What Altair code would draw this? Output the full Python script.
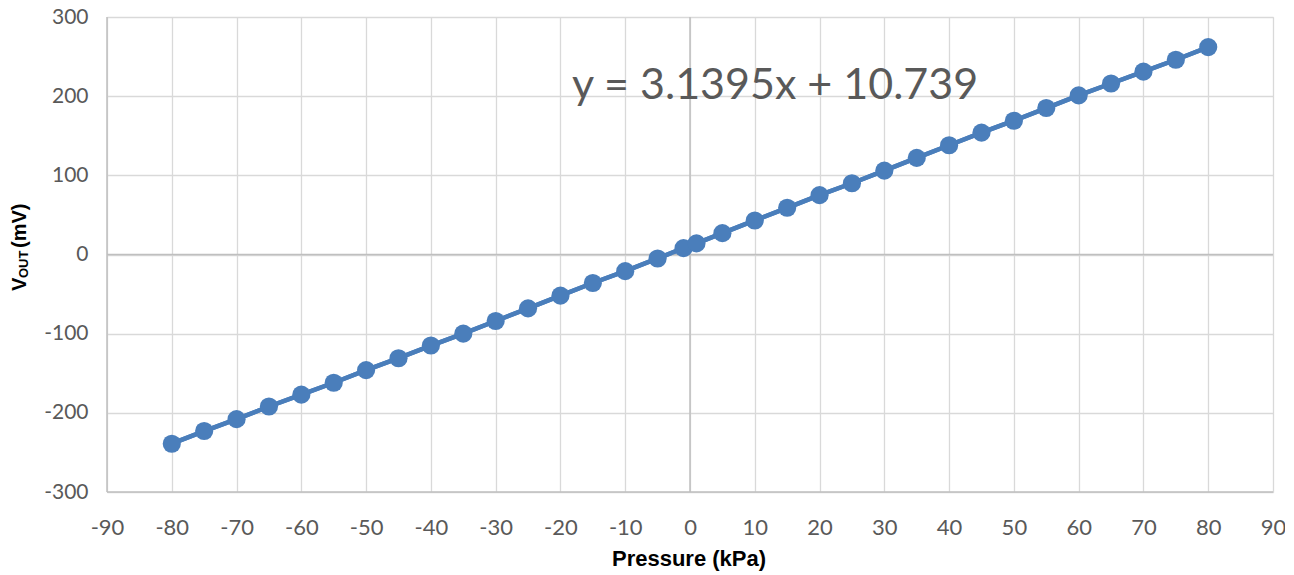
import altair as alt
import pandas as pd

pressure = [-80, -75, -70, -65, -60, -55, -50, -45, -40, -35, -30, -25, -20, -15, -10, -5,
            -1, 1, 5, 10, 15, 20, 25, 30, 35, 40, 45, 50, 55, 60, 65, 70, 75, 80]
vout = [-239, -223, -208, -192, -177, -162, -146, -131, -115, -100, -84, -68, -52, -36, -21, -5,
        8, 14, 27, 43, 59, 75, 90, 106, 122, 138, 154, 169, 185, 201, 216, 231, 246, 262]
x_ticks = list(range(-90, 91, 10))
y_ticks = list(range(-300, 301, 100))
equation = "y = 3.1395x + 10.739"

df = pd.DataFrame({"p": pressure, "v": vout})

TOP = 17
W, H = 1166, 492 - TOP
BLUE = "#4A7EBB"
GREY_TXT = "#595959"
FONT = "Lato"
LABEL_EXPR = "datum.value < 0 ? '-' + abs(datum.value) : '' + datum.value"

xs = alt.Scale(domain=[-90, 90], nice=False, zero=False)
ys = alt.Scale(domain=[-300, 300], nice=False, zero=False)

base = alt.Chart(df)

line = base.mark_line(color=BLUE, strokeWidth=4.5).encode(
    x=alt.X("p:Q", scale=xs, axis=alt.Axis(
        values=x_ticks, title=None, grid=True, gridColor="#d9d9d9", gridWidth=1.3,
        domain=False, ticks=False, labelFont=FONT, labelFontSize=22, labelColor=GREY_TXT,
        labelBaseline="middle", labelPadding=35, labelFlush=False, labelExpr=LABEL_EXPR)),
    y=alt.Y("v:Q", scale=ys, axis=alt.Axis(
        values=y_ticks, title=None, grid=True, gridColor="#d9d9d9", gridWidth=1.3,
        domain=False, ticks=False, labelFont=FONT, labelFontSize=21, labelColor=GREY_TXT,
        labelPadding=19, labelFlush=False, labelExpr=LABEL_EXPR)),
)
points = base.mark_circle(color=BLUE, size=330, opacity=1).encode(x="p:Q", y="v:Q")

zero_df = pd.DataFrame({"z": [0]})
vzero = alt.Chart(zero_df).mark_rule(color="#bfbfbf", strokeWidth=1.5).encode(x=alt.X("z:Q", scale=xs))
hzero = alt.Chart(zero_df).mark_rule(color="#bfbfbf", strokeWidth=1.5).encode(y=alt.Y("z:Q", scale=ys))
left_df = pd.DataFrame({"z": [-90]})
bot_df = pd.DataFrame({"z": [-300]})
vleft = alt.Chart(left_df).mark_rule(color="#bfbfbf", strokeWidth=1.5).encode(x=alt.X("z:Q", scale=xs))
hbot = alt.Chart(bot_df).mark_rule(color="#bfbfbf", strokeWidth=1.5).encode(y=alt.Y("z:Q", scale=ys))

eq = alt.Chart(pd.DataFrame({"t": [equation]})).mark_text(
    font=FONT, fontSize=43, color=GREY_TXT, align="left", baseline="alphabetic"
).encode(text="t:N", x=alt.value(465), y=alt.value(99 - TOP))

xtitle = alt.Chart(pd.DataFrame({"t": ["Pressure (kPa)"]})).mark_text(
    font="Liberation Sans", fontSize=22, fontWeight="bold", color="black",
    align="center", baseline="middle"
).encode(text="t:N", x=alt.value(582), y=alt.value(559 - TOP))

yt_v = alt.Chart(pd.DataFrame({"t": ["V"]})).mark_text(
    font="Liberation Sans", fontSize=20, fontWeight="bold", color="black",
    align="left", baseline="middle", angle=270
).encode(text="t:N", x=alt.value(-87), y=alt.value(291 - TOP))
yt_out = alt.Chart(pd.DataFrame({"t": ["OUT"]})).mark_text(
    font="Liberation Sans", fontSize=13, fontWeight="bold", color="black",
    align="left", baseline="middle", angle=270
).encode(text="t:N", x=alt.value(-83), y=alt.value(278 - TOP))
yt_mv = alt.Chart(pd.DataFrame({"t": ["(mV)"]})).mark_text(
    font="Liberation Sans", fontSize=20, fontWeight="bold", color="black",
    align="left", baseline="middle", angle=270
).encode(text="t:N", x=alt.value(-87), y=alt.value(248 - TOP))

chart = alt.layer(
    line, vleft, hbot, vzero, hzero, line, points, eq, xtitle, yt_v, yt_out, yt_mv
).properties(
    width=W, height=H,
    autosize=alt.AutoSizeParams(type="none"),
    padding={"left": 99, "top": TOP - 8, "right": 12, "bottom": 82},
).configure_view(stroke=None).configure(background="white")

chart.save("out.html", embed_options={"renderer": "svg", "actions": False})
